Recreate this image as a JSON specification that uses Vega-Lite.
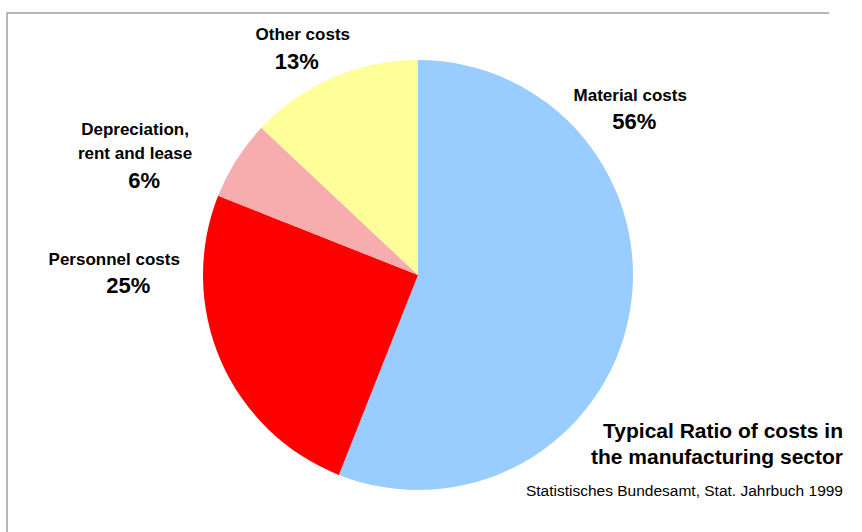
{
  "$schema": "https://vega.github.io/schema/vega-lite/v6.json",
  "autosize": "none",
  "padding": {"left": 7, "top": 13, "right": 33, "bottom": 0},
  "width": 822,
  "height": 524,
  "background": "white",
  "view": {"stroke": "#a0a0a0", "strokeWidth": 1.5, "strokeDash": [822, 524, 3000]},
  "config": {
    "font": "Liberation Sans"
  },
  "title": {
    "text": ["Typical Ratio of costs in", "the manufacturing sector"],
    "subtitle": "Statistisches Bundesamt, Stat. Jahrbuch 1999",
    "orient": "bottom",
    "anchor": "end",
    "frame": "group",
    "baseline": "alphabetic",
    "offset": -99,
    "dx": 14,
    "font": "Liberation Sans",
    "fontSize": 21,
    "fontWeight": "bold",
    "lineHeight": 26,
    "color": "black",
    "subtitleFont": "Liberation Sans",
    "subtitleFontSize": 15.5,
    "subtitleColor": "black",
    "subtitlePadding": 11
  },
  "data": {
    "values": [
      {"cat": "Material costs", "share": 0.56, "rank": 1},
      {"cat": "Personnel costs", "share": 0.25, "rank": 2},
      {"cat": "Depreciation,\nrent and lease", "share": 0.06, "rank": 3},
      {"cat": "Other costs", "share": 0.13, "rank": 4}
    ]
  },
  "encoding": {
    "theta": {"field": "share", "type": "quantitative", "stack": true},
    "order": {"field": "rank", "type": "quantitative"}
  },
  "layer": [
    {
      "mark": {"type": "arc", "outerRadius": 215},
      "encoding": {
        "color": {
          "field": "cat",
          "type": "nominal",
          "scale": {
            "domain": ["Material costs", "Personnel costs", "Depreciation,\nrent and lease", "Other costs"],
            "range": ["#99ccff", "#ff0000", "#f7adad", "#ffff99"]
          },
          "legend": null
        }
      }
    },
    {
      "mark": {"type": "text", "radius": 270, "fontSize": 17, "fontWeight": "bold", "align": "center", "baseline": "alphabetic", "dx": -53, "dy": -225},
      "encoding": {"text": {"condition": {"test": "datum.rank === 1", "field": "cat"}, "value": ""}}
    },
    {
      "mark": {"type": "text", "radius": 270, "fontSize": 22, "fontWeight": "bold", "align": "center", "baseline": "alphabetic", "dx": -49, "dy": -197},
      "encoding": {"text": {"condition": {"test": "datum.rank === 1", "field": "share", "format": ".0%"}, "value": ""}}
    },
    {
      "mark": {"type": "text", "radius": 270, "fontSize": 17, "fontWeight": "bold", "align": "center", "baseline": "alphabetic", "dx": -56, "dy": -117},
      "encoding": {"text": {"condition": {"test": "datum.rank === 2", "field": "cat"}, "value": ""}}
    },
    {
      "mark": {"type": "text", "radius": 270, "fontSize": 22, "fontWeight": "bold", "align": "center", "baseline": "alphabetic", "dx": -42, "dy": -89},
      "encoding": {"text": {"condition": {"test": "datum.rank === 2", "field": "share", "format": ".0%"}, "value": ""}}
    },
    {
      "mark": {"type": "text", "radius": 270, "fontSize": 17, "fontWeight": "bold", "align": "center", "baseline": "alphabetic", "lineBreak": "\n", "lineHeight": 23.5, "dx": -55, "dy": 5},
      "encoding": {"text": {"condition": {"test": "datum.rank === 3", "field": "cat"}, "value": ""}}
    },
    {
      "mark": {"type": "text", "radius": 270, "fontSize": 22, "fontWeight": "bold", "align": "center", "baseline": "alphabetic", "dx": -46, "dy": 58},
      "encoding": {"text": {"condition": {"test": "datum.rank === 3", "field": "share", "format": ".0%"}, "value": ""}}
    },
    {
      "mark": {"type": "text", "radius": 270, "fontSize": 17, "fontWeight": "bold", "align": "center", "baseline": "alphabetic", "dx": -8, "dy": 13},
      "encoding": {"text": {"condition": {"test": "datum.rank === 4", "field": "cat"}, "value": ""}}
    },
    {
      "mark": {"type": "text", "radius": 270, "fontSize": 22, "fontWeight": "bold", "align": "center", "baseline": "alphabetic", "dx": -14, "dy": 42},
      "encoding": {"text": {"condition": {"test": "datum.rank === 4", "field": "share", "format": ".0%"}, "value": ""}}
    }
  ]
}
